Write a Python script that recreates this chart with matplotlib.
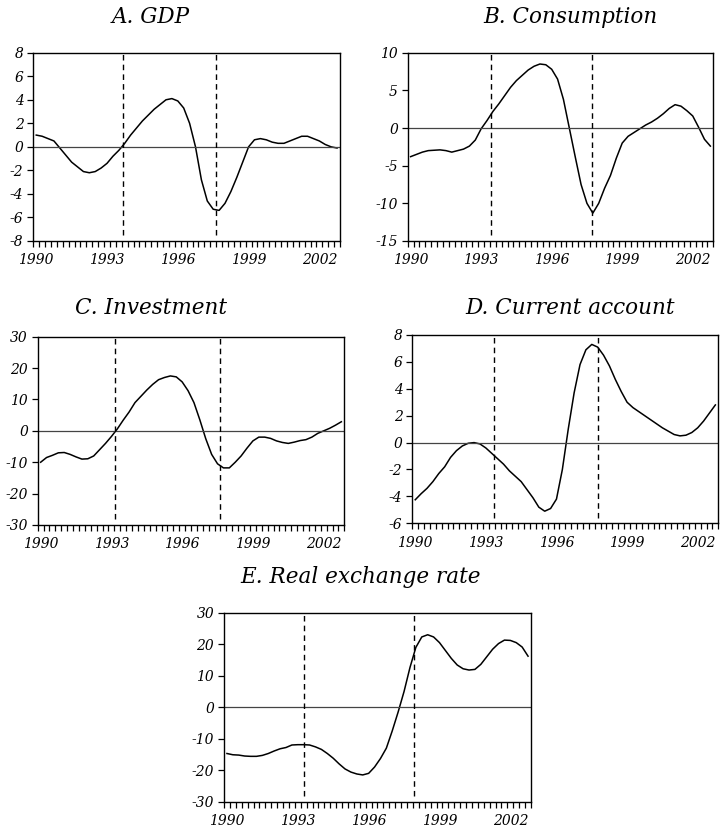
import matplotlib
matplotlib.use("Agg")
import matplotlib.pyplot as plt
import numpy as np

plt.rcParams['font.family'] = ['DejaVu Serif']
plt.rcParams['axes.unicode_minus'] = False

# Quarterly observations 1990Q1 - 2002Q4
year_labels = ['1990', '1993', '1996', '1999', '2002']
label_idx = [0, 12, 24, 36, 48]

gdp = [1.0, 0.9, 0.7, 0.5, -0.1, -0.7, -1.3, -1.7, -2.1, -2.2, -2.1, -1.8, -1.4,
       -0.8, -0.3, 0.3, 1.0, 1.6, 2.2, 2.7, 3.2, 3.6, 4.0, 4.1, 3.9, 3.3, 2.0,
       0.0, -2.8, -4.6, -5.3, -5.4, -4.8, -3.8, -2.6, -1.3, 0.0, 0.6, 0.7, 0.6,
       0.4, 0.3, 0.3, 0.5, 0.7, 0.9, 0.9, 0.7, 0.5, 0.2, 0.0, -0.1]

consumption = [-3.8, -3.5, -3.2, -3.0, -2.95, -2.9, -3.0, -3.2, -3.0, -2.8, -2.4,
               -1.6, -0.1, 1.0, 2.2, 3.2, 4.3, 5.4, 6.3, 7.0, 7.7, 8.2, 8.5, 8.4,
               7.8, 6.5, 3.8, 0.0, -3.8, -7.5, -10.0, -11.3, -10.0, -8.0, -6.3,
               -4.0, -2.0, -1.1, -0.6, -0.1, 0.4, 0.8, 1.3, 1.9, 2.6, 3.1, 2.9,
               2.3, 1.6, 0.1, -1.5, -2.4]

investment = [-10.0, -8.5, -7.8, -7.0, -6.9, -7.5, -8.3, -9.0, -8.9, -8.0, -6.0,
              -4.0, -1.8, 0.6, 3.4, 6.0, 9.0, 11.0, 13.0, 14.8, 16.3, 17.0, 17.5,
              17.2, 15.6, 12.8, 9.0, 3.5, -2.5, -7.5, -10.5, -11.8, -11.8, -10.0,
              -8.0, -5.5, -3.2, -2.0, -2.0, -2.4, -3.2, -3.7, -4.0, -3.6, -3.1,
              -2.8, -2.0, -0.8, 0.0, 0.8, 1.8, 2.9]

current_account = [-4.25, -3.8, -3.4, -2.9, -2.3, -1.8, -1.1, -0.6, -0.25, -0.05,
                   0.0, -0.1, -0.4, -0.8, -1.2, -1.6, -2.1, -2.5, -2.9, -3.5,
                   -4.1, -4.8, -5.1, -4.9, -4.2, -2.0, 1.0, 3.7, 5.8, 6.9, 7.3,
                   7.1, 6.5, 5.7, 4.7, 3.8, 3.0, 2.6, 2.3, 2.0, 1.7, 1.4, 1.1,
                   0.85, 0.6, 0.5, 0.55, 0.75, 1.1, 1.6, 2.2, 2.8]

real_exchange_rate = [-14.7, -15.1, -15.2, -15.5, -15.6, -15.6, -15.3, -14.7,
                      -13.9, -13.2, -12.8, -12.0, -11.9, -11.9, -12.0, -12.6,
                      -13.4, -14.7, -16.2, -18.0, -19.6, -20.6, -21.2, -21.5,
                      -21.0, -19.0, -16.3, -13.0, -7.5, -1.5, 5.0, 12.6, 19.0,
                      22.3, 23.0, 22.3, 20.5, 18.0, 15.5, 13.4, 12.2, 11.8, 12.0,
                      13.6, 16.0, 18.4, 20.2, 21.3, 21.2, 20.5, 19.1, 16.2]

titles = ['A. GDP', 'B. Consumption', 'C. Investment', 'D. Current account',
          'E. Real exchange rate']
series = [gdp, consumption, investment, current_account, real_exchange_rate]
ylims = [(-8, 8), (-15, 10), (-30, 30), (-6, 8), (-30, 30)]
ysteps = [2, 5, 10, 2, 10]
event_lines = [(14.75, 30.5), (13.6, 30.9), (12.6, 30.4), (13.3, 31.0), (13.06, 31.6)]

W, H = 721, 833
# axes boxes in pixels: left, top, right, bottom
boxes = [(33.3, 52.7, 340, 241), (407.7, 52.7, 713.3, 241),
         (37.7, 336.7, 344.3, 525), (412.3, 335, 718.3, 523.3),
         (224, 612.7, 531, 801.7)]
title_pos = [(151, 22.7), (570, 22.7), (151, 314.3), (570, 314.3), (361, 582.7)]

fig = plt.figure(figsize=(W / 100, H / 100), dpi=100)

for k in range(5):
    l, t, r, b = boxes[k]
    ax = fig.add_axes([l / W, 1 - b / H, (r - l) / W, (b - t) / H])
    y = series[k]
    x = np.arange(len(y))
    ax.plot(x, y, color='black', lw=1.1)
    ax.axhline(0, color='#444444', lw=0.9)
    for ev in event_lines[k]:
        ax.axvline(ev, ymin=0.03, ymax=1.0, color='black', lw=1.0,
                   ls=(0, (4, 3)))
    ax.set_xlim(-0.5, len(y) - 0.5)
    ax.set_ylim(*ylims[k])
    lo, hi = ylims[k]
    yt = np.arange(lo, hi + 0.01, ysteps[k])
    ax.set_yticks(yt)
    ax.set_yticklabels([str(int(v)) for v in yt], fontstyle='italic', fontsize=10)
    ax.set_xticks(label_idx)
    ax.set_xticklabels(year_labels, fontstyle='italic', fontsize=10)
    ax.set_xticks(np.arange(-0.5, len(y) + 0.5, 1.0), minor=True)
    ax.tick_params(axis='x', which='major', length=0, pad=9)
    ax.tick_params(axis='x', which='minor', length=4.5, width=0.9, direction='out')
    ax.tick_params(axis='y', length=4, width=0.9, direction='out', pad=3)
    for s in ax.spines.values():
        s.set_linewidth(1.0)
    fig.text(title_pos[k][0] / W, 1 - title_pos[k][1] / H, titles[k],
             ha='center', va='baseline', fontsize=15.5, fontstyle='italic')

fig.savefig('out.png', dpi=100)
